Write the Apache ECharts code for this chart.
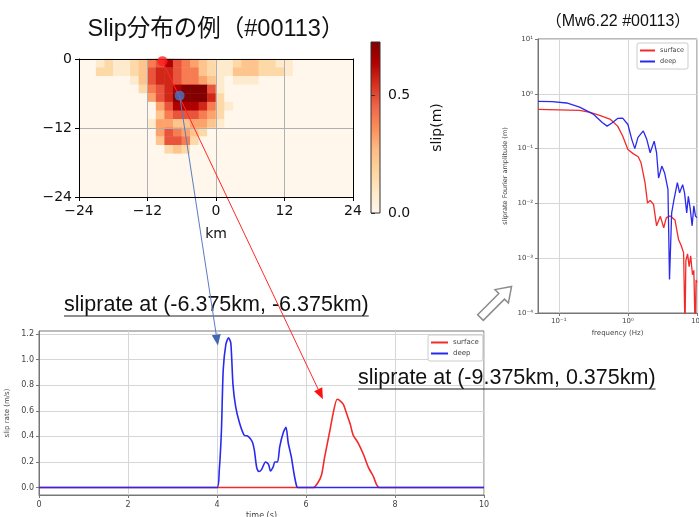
<!DOCTYPE html>
<html>
<head>
<meta charset="utf-8">
<script src="https://cdn.jsdelivr.net/npm/echarts@6/dist/echarts.min.js"></script>
<style>
  html, body { margin: 0; padding: 0; background: #fff; }
  #chart { width: 699px; height: 517px; }
</style>
</head>
<body>
<div id="chart"></div>
<script>
// slip map: 1.5 km cells, column centres (km along strike) and row centres (km depth)
const slipX = [-23.25, -21.75, -20.25, -18.75, -17.25, -15.75, -14.25, -12.75, -11.25, -9.75, -8.25, -6.75,
  -5.25, -3.75, -2.25, -0.75, 0.75, 2.25, 3.75, 5.25, 6.75, 8.25, 9.75, 11.25, 12.75, 14.25, 15.75, 17.25,
  18.75, 20.25, 21.75, 23.25];
const slipDepth = [0.75, 2.25, 3.75, 5.25, 6.75, 8.25, 9.75, 11.25, 12.75, 14.25, 15.75, 17.25, 18.75, 20.25, 21.75, 23.25];
// slip levels per cell (one digit = 0.08 m), row 0 at the surface
const slipStep = 0.08;
const slipRows = [
  '00121123568654321123322110000000',
  '00221123677655321133322210000000',
  '00000013677655431011100000000000',
  '00000002567899961000000000000000',
  '00000000467999972000000000000000',
  '00000000046888752100000000000000',
  '00000000035666542000000000000000',
  '00000000144334431000000000000000',
  '00000000046543200000000000000000',
  '00000000036652000000000000000000',
  '00000000002320000000000000000000',
  '00000000000000000000000000000000',
  '00000000000000000000000000000000',
  '00000000000000000000000000000000',
  '00000000000000000000000000000000',
  '00000000000000000000000000000000'
];
const slipMax = 0.725;
const surfacePoint = [-9.375, -0.375];
const deepPoint = [-6.375, -6.375];

// slip rate time histories
const deepTime = [0, 4.0, 4.05, 4.1, 4.14, 4.2, 4.26, 4.31, 4.36, 4.42, 4.51, 4.61, 4.7, 4.79, 4.84, 4.89, 4.94,
  5.0, 5.09, 5.16, 5.2, 5.26, 5.3, 5.36, 5.41, 5.49, 5.55, 5.6, 5.67, 5.73, 5.79, 5.82, 10];
const deepRate = [0, 0, 0.13, 0.45, 0.92, 1.12, 1.17, 1.13, 0.8, 0.63, 0.5, 0.41, 0.4, 0.36, 0.29, 0.16, 0.125,
  0.14, 0.2, 0.18, 0.13, 0.16, 0.2, 0.2, 0.32, 0.43, 0.47, 0.35, 0.24, 0.11, 0.01, 0, 0];
const surfaceTime = [0, 6.16, 6.27, 6.35, 6.42, 6.54, 6.61, 6.7, 6.76, 6.84, 6.91, 6.99, 7.06, 7.17, 7.29, 7.4, 7.51, 7.65, 10];
const surfaceRate = [0, 0, 0.04, 0.1, 0.24, 0.45, 0.58, 0.69, 0.68, 0.65, 0.58, 0.5, 0.41, 0.35, 0.26, 0.16, 0.09, 0, 0];
const rateTicks = [0, 0.2, 0.4, 0.6, 0.8, 1.0, 1.2];

// Fourier amplitude spectra
const deepFreq = [0.05, 0.08, 0.13, 0.2, 0.32, 0.425, 0.5, 0.58, 0.71, 0.84, 1.0, 1.14, 1.26, 1.4, 1.67, 1.88, 2.1,
  2.4, 2.6, 2.78, 3.1, 3.4, 3.8, 4.0, 4.3, 4.65, 5.2, 5.6, 6.2, 6.6, 7.1, 7.5, 8.0, 8.5, 9.0, 9.5, 10];
const deepAmp = [0.73, 0.72, 0.68, 0.57, 0.42, 0.30, 0.257, 0.29, 0.355, 0.36, 0.275, 0.146, 0.10, 0.16, 0.21,
  0.146, 0.084, 0.137, 0.084, 0.029, 0.048, 0.036, 0.018, 0.00041, 0.0067, 0.0118, 0.024, 0.0156, 0.022, 0.0156,
  0.0067, 0.0135, 0.0078, 0.0039, 0.009, 0.0059, 0.0055];
const surfaceFreq = [0.05, 0.1, 0.2, 0.285, 0.4, 0.56, 0.71, 0.84, 1.0, 1.19, 1.41, 1.55, 1.77, 1.92, 2.1, 2.35, 2.6,
  2.95, 3.3, 3.6, 4.1, 4.8, 5.4, 5.9, 6.4, 6.7, 6.9, 7.3, 7.7, 8.1, 8.6, 9.0, 9.4, 9.7, 10];
const surfaceAmp = [0.52, 0.51, 0.50, 0.46, 0.40, 0.34, 0.257, 0.17, 0.096, 0.081, 0.071, 0.055, 0.024, 0.0102,
  0.0113, 0.0096, 0.0039, 0.0058, 0.0036, 0.0055, 0.0059, 0.005, 0.0022, 0.0017, 0.00125, 0.00005, 0.0009, 0.0012,
  0.0007, 0.0011, 0.0005, 0.0006, 0.00005, 0.0004, 0.00036];

// where the annotation arrows end on the slip rate plot
const deepArrowTip = [4.02, 1.11];
const surfaceArrowTip = [6.38, 0.69];

const orRd = ['#fff7ec', '#fee8c8', '#fdd49e', '#fdbb84', '#fc8d59', '#ef6548', '#d7301f', '#b30000', '#7f0000'];
const plotFont = '"DejaVu Sans", sans-serif';
const slideFont = '"Liberation Sans", "Noto Sans CJK JP", sans-serif';

const heatData = [];
slipRows.forEach((row, j) => {
  row.split('').forEach((d, i) => {
    heatData.push([i, j, Number(d) * slipStep]);
  });
});

const pairs = (xs, ys) => xs.map((x, i) => [x, ys[i]]);
const kmLabel = v => (v < 0 ? '\u2212' + (-v) : String(v));
const sup = { '-': '\u207b', '0': '\u2070', '1': '\u00b9', '2': '\u00b2', '3': '\u00b3', '4': '\u2074', '5': '\u2075' };
const powLabel = v => '10' + String(Math.round(Math.log10(v))).split('').map(c => sup[c]).join('');

const chart = echarts.init(document.getElementById('chart'), null, { renderer: 'canvas' });

const blackAxis = { onZero: false, lineStyle: { color: '#000', width: 1 } };
const grayAxis = { onZero: false, lineStyle: { color: '#777', width: 1 } };

const option = {
  animation: false,
  backgroundColor: '#fff',
  grid: [
    { left: 79, top: 59, width: 274, height: 138, show: true, backgroundColor: '#fff7ec', borderWidth: 0, outerBoundsMode: 'none' },
    { left: 79, top: 59, width: 274, height: 138, outerBoundsMode: 'none' },
    {
      left: 371, top: 42, width: 9, height: 171, show: true, borderColor: '#333', borderWidth: 1, outerBoundsMode: 'none',
      backgroundColor: {
        type: 'linear', x: 0, y: 0, x2: 0, y2: 1,
        colorStops: orRd.slice().reverse().map((c, i) => ({ offset: i / (orRd.length - 1), color: c }))
      }
    },
    { left: 39, top: 331, width: 445, height: 164, show: true, borderColor: '#777', borderWidth: 1, outerBoundsMode: 'none' },
    { left: 538, top: 39, width: 159, height: 274, show: true, borderColor: '#777', borderWidth: 1, outerBoundsMode: 'none' }
  ],
  xAxis: [
    {
      type: 'category', gridIndex: 0, data: slipX, position: 'top', z: 5,
      axisLine: blackAxis, axisTick: { show: false }, axisLabel: { show: false }, splitLine: { show: false }
    },
    {
      type: 'value', gridIndex: 1, min: -24, max: 24, interval: 12, position: 'bottom', z: 5,
      axisLine: blackAxis,
      axisTick: { length: 4, lineStyle: { color: '#000' } },
      axisLabel: { formatter: kmLabel, fontSize: 14, color: '#111', fontFamily: plotFont, margin: 7 },
      splitLine: { show: true, lineStyle: { color: '#b0b0b0', width: 1 } },
      name: 'km', nameLocation: 'middle', nameGap: 30,
      nameTextStyle: { fontSize: 14, color: '#111', fontFamily: plotFont }
    },
    { type: 'value', gridIndex: 2, min: 0, max: 1, show: false },
    {
      type: 'value', gridIndex: 3, min: 0, max: 10, interval: 2,
      axisLine: grayAxis,
      axisTick: { length: 3, lineStyle: { color: '#777' } },
      axisLabel: { fontSize: 8, color: '#444', fontFamily: plotFont, margin: 6 },
      splitLine: { show: true, lineStyle: { color: '#d6d6d6' } },
      name: 'time (s)', nameLocation: 'middle', nameGap: 17,
      nameTextStyle: { fontSize: 8, color: '#444', fontFamily: plotFont }
    },
    {
      type: 'log', gridIndex: 4, logBase: 10, min: 0.05, max: 10,
      axisLine: grayAxis,
      axisTick: { length: 3, lineStyle: { color: '#777' } },
      axisLabel: { formatter: powLabel, showMinLabel: false, fontSize: 7, color: '#444', fontFamily: plotFont, margin: 5 },
      splitLine: { show: true, lineStyle: { color: '#d6d6d6' } },
      name: 'frequency (Hz)', nameLocation: 'middle', nameGap: 13,
      nameTextStyle: { fontSize: 7, color: '#444', fontFamily: plotFont }
    }
  ],
  yAxis: [
    {
      type: 'category', gridIndex: 0, data: slipDepth, inverse: true, position: 'right', z: 5,
      axisLine: blackAxis, axisTick: { show: false }, axisLabel: { show: false }, splitLine: { show: false }
    },
    {
      type: 'value', gridIndex: 1, min: -24, max: 0, interval: 12, position: 'left', z: 5,
      axisLine: blackAxis,
      axisTick: { length: 4, lineStyle: { color: '#000' } },
      axisLabel: { formatter: kmLabel, fontSize: 14, color: '#111', fontFamily: plotFont, margin: 7 },
      splitLine: { show: true, lineStyle: { color: '#b0b0b0', width: 1 } }
    },
    {
      type: 'value', gridIndex: 2, min: 0, max: slipMax, position: 'right',
      axisLine: { show: false },
      axisTick: { length: 4, customValues: [0, 0.5], lineStyle: { color: '#333' } },
      axisLabel: { customValues: [0, 0.5], formatter: v => v.toFixed(1), fontSize: 14, color: '#111', fontFamily: plotFont, margin: 8 },
      splitLine: { show: false },
      name: 'slip(m)', nameLocation: 'middle', nameRotate: 90, nameGap: 50,
      nameTextStyle: { fontSize: 14, color: '#111', fontFamily: plotFont }
    },
    {
      type: 'value', gridIndex: 3, min: -0.058, max: 1.223, splitNumber: 6,
      axisLine: grayAxis,
      axisTick: { length: 3, customValues: rateTicks, lineStyle: { color: '#777' } },
      axisLabel: { customValues: rateTicks, formatter: v => v.toFixed(1), fontSize: 8, color: '#444', fontFamily: plotFont, margin: 5 },
      splitLine: { show: true, lineStyle: { color: '#d6d6d6' } },
      name: 'slip rate (m/s)', nameLocation: 'middle', nameGap: 21,
      nameTextStyle: { fontSize: 7, color: '#444', fontFamily: plotFont }
    },
    {
      type: 'log', gridIndex: 4, logBase: 10, min: 1e-4, max: 10,
      axisLine: grayAxis,
      axisTick: { length: 3, lineStyle: { color: '#777' } },
      axisLabel: { formatter: powLabel, fontSize: 7, color: '#444', fontFamily: plotFont, margin: 5 },
      splitLine: { show: true, lineStyle: { color: '#d6d6d6' } },
      name: 'sliprate Fourier amplitude (m)', nameLocation: 'middle', nameGap: 29,
      nameTextStyle: { fontSize: 6.5, color: '#444', fontFamily: plotFont }
    }
  ],
  visualMap: {
    type: 'continuous', show: false, min: 0, max: slipMax, seriesIndex: 0, dimension: 2,
    inRange: { color: orRd }
  },
  legend: [
    {
      data: ['surface', 'deep'], left: 428, top: 335, orient: 'vertical',
      icon: 'rect', itemWidth: 17, itemHeight: 2, itemGap: 4, padding: [4, 4, 4, 3],
      backgroundColor: '#fff', borderColor: '#ccc', borderWidth: 1, borderRadius: 2,
      textStyle: { fontSize: 7, color: '#444', fontFamily: plotFont }, selectedMode: false
    },
    {
      data: ['surface', 'deep'], left: 637, top: 43, orient: 'vertical',
      icon: 'rect', itemWidth: 15, itemHeight: 2, itemGap: 4, padding: [4, 4, 4, 3],
      backgroundColor: '#fff', borderColor: '#ccc', borderWidth: 1, borderRadius: 2,
      textStyle: { fontSize: 6.5, color: '#444', fontFamily: plotFont }, selectedMode: false
    }
  ],
  series: [
    {
      type: 'heatmap', xAxisIndex: 0, yAxisIndex: 0, data: heatData,
      itemStyle: { borderWidth: 0 }, emphasis: { disabled: true }, progressive: 0
    },
    {
      type: 'scatter', xAxisIndex: 1, yAxisIndex: 1, symbolSize: 10, z: 10, silent: true,
      data: [
        { value: surfacePoint, itemStyle: { color: '#ff1f1f' } },
        { value: deepPoint, itemStyle: { color: '#4a74c9' } }
      ]
    },
    {
      name: 'surface', type: 'line', xAxisIndex: 3, yAxisIndex: 3, data: pairs(surfaceTime, surfaceRate),
      showSymbol: false, smooth: 0.25, color: '#f22a2a', lineStyle: { color: '#f22a2a', width: 1.6 }
    },
    {
      name: 'deep', type: 'line', xAxisIndex: 3, yAxisIndex: 3, data: pairs(deepTime, deepRate),
      showSymbol: false, smooth: 0.25, color: '#2a2aee', lineStyle: { color: '#2a2aee', width: 1.6 }
    },
    {
      name: 'surface', type: 'line', xAxisIndex: 4, yAxisIndex: 4, data: pairs(surfaceFreq, surfaceAmp),
      showSymbol: false, color: '#f22a2a', lineStyle: { color: '#f22a2a', width: 1.3 }
    },
    {
      name: 'deep', type: 'line', xAxisIndex: 4, yAxisIndex: 4, data: pairs(deepFreq, deepAmp),
      showSymbol: false, color: '#2a2aee', lineStyle: { color: '#2a2aee', width: 1.3 }
    }
  ]
};

chart.setOption(option);

// annotations: titles, underlined captions, arrows
const measure = document.createElement('canvas').getContext('2d');
function textWidth(text, font) {
  measure.font = font;
  return measure.measureText(text).width;
}

function arrow(from, to, lineColor, headColor) {
  const dx = to[0] - from[0];
  const dy = to[1] - from[1];
  const len = Math.hypot(dx, dy);
  const ux = dx / len;
  const uy = dy / len;
  const headLen = 11;
  const headHalf = 4.5;
  const bx = to[0] - ux * headLen;
  const by = to[1] - uy * headLen;
  return [
    { type: 'line', z: 5, silent: true, shape: { x1: from[0], y1: from[1], x2: bx, y2: by }, style: { stroke: lineColor, lineWidth: 1 } },
    {
      type: 'polygon', z: 5, silent: true,
      shape: { points: [to, [bx - uy * headHalf, by + ux * headHalf], [bx + uy * headHalf, by - ux * headHalf]] },
      style: { fill: headColor }
    }
  ];
}

function caption(text, x, y, size) {
  const font = size + 'px ' + slideFont;
  const w = textWidth(text, font);
  return [
    { type: 'text', silent: true, style: { text: text, x: x, y: y, font: font, fill: '#111', textAlign: 'left', textVerticalAlign: 'middle' } },
    { type: 'line', silent: true, shape: { x1: x, y1: y + 11, x2: x + w, y2: y + 11 }, style: { stroke: '#222', lineWidth: 1.2 } }
  ];
}

const deepPx = chart.convertToPixel({ xAxisIndex: 1, yAxisIndex: 1 }, deepPoint);
const surfacePx = chart.convertToPixel({ xAxisIndex: 1, yAxisIndex: 1 }, surfacePoint);
const deepTipPx = chart.convertToPixel({ xAxisIndex: 3, yAxisIndex: 3 }, deepArrowTip);
const surfaceTipPx = chart.convertToPixel({ xAxisIndex: 3, yAxisIndex: 3 }, surfaceArrowTip);

const graphics = [
  {
    type: 'text', silent: true,
    style: { text: 'Slip分布の例（#00113）', x: 216, y: 30, font: '23.5px ' + slideFont, fill: '#111', textAlign: 'center', textVerticalAlign: 'middle' }
  },
  {
    type: 'text', silent: true,
    style: { text: '（Mw6.22 #00113）', x: 618, y: 22, font: '16px ' + slideFont, fill: '#111', textAlign: 'center', textVerticalAlign: 'middle' }
  },
  ...caption('sliprate at (-6.375km, -6.375km)', 64, 305, 21.5),
  ...caption('sliprate at (-9.375km, 0.375km)', 358, 378, 21.5),
  {
    type: 'polygon', silent: true, x: 496, y: 302, rotation: Math.PI / 4,
    shape: { points: [[-22, -4], [8, -4], [8, -9.5], [22, 0], [8, 9.5], [8, 4], [-22, 4]] },
    style: { fill: '#fff', stroke: '#8c8c8c', lineWidth: 1.5 }
  },
  ...arrow(deepPx, deepTipPx, '#5b7cc4', '#4468b0'),
  ...arrow(surfacePx, surfaceTipPx, '#ff2a2a', '#ff1010')
];

chart.setOption({ graphic: graphics });
</script>
</body>
</html>
